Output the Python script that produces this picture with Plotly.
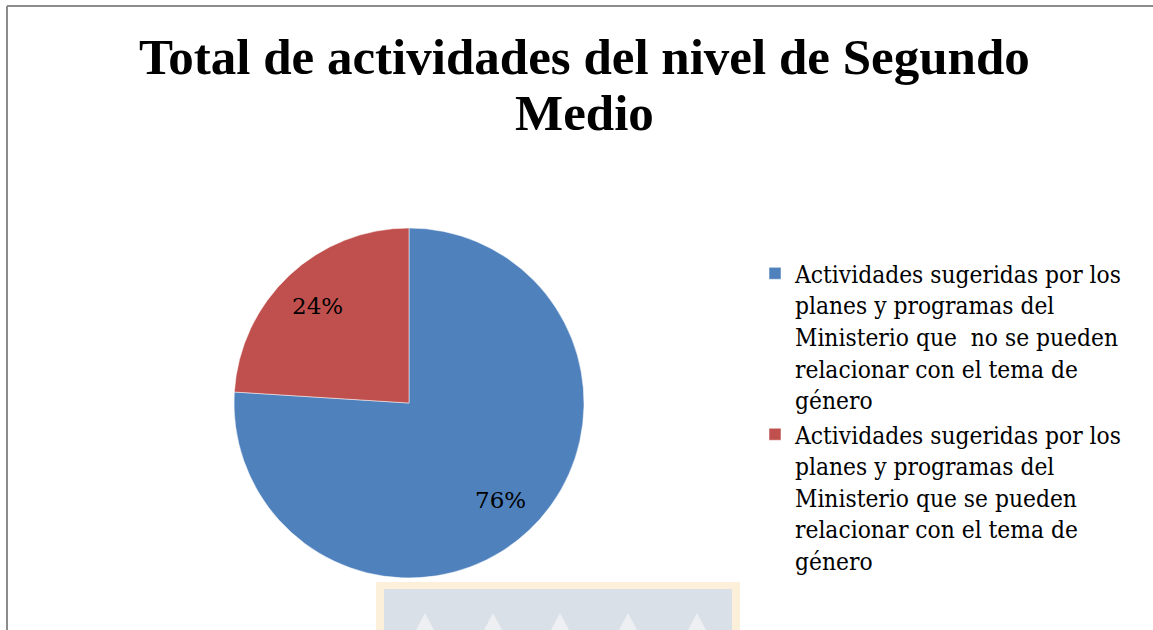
import math
import plotly.graph_objects as go

W, H = 1153, 630

title_lines = ["Total de actividades del nivel de Segundo", "Medio"]
categories = [
    "Actividades sugeridas por los<br>planes y programas del<br>Ministerio que  no se pueden<br>relacionar con el tema de<br>género",
    "Actividades sugeridas por los<br>planes y programas del<br>Ministerio que se pueden<br>relacionar con el tema de<br>género",
]
values = [76, 24]
colors = ["#4F81BD", "#C0504D"]

FONT = "Liberation Serif"
LFONT = "DejaVu Serif Condensed, DejaVu Serif"
PFONT = "DejaVu Serif"

# pie geometry (pixels)
cx, cy, R = 409, 403, 175

fig = go.Figure()
fig.add_trace(go.Pie(
    labels=categories,
    values=values,
    sort=False,
    direction="clockwise",
    rotation=0,
    marker=dict(colors=colors, line=dict(color="white", width=0.5)),
    textinfo="none",
    hoverinfo="label+percent",
    domain=dict(x=[(cx - R) / W, (cx + R) / W], y=[1 - (cy + R) / H, 1 - (cy - R) / H]),
    showlegend=True,
))

# percentage labels placed along slice bisectors
total = sum(values)
start = 0.0
annotations = []
for v in values:
    frac = v / total
    mid = (start + frac / 2) * 2 * math.pi
    start += frac
    r = 0.76 * R
    px = cx + r * math.sin(mid)
    py = cy - r * math.cos(mid)
    annotations.append(dict(
        x=px / W, y=1 - py / H, xref="paper", yref="paper",
        text=f"{round(frac * 100)}%", showarrow=False,
        font=dict(family=PFONT, size=23, color="black"),
        xanchor="center", yanchor="middle",
    ))

for i, line in enumerate(title_lines):
    annotations.append(dict(
        x=584 / W, y=1 - (57 + 56 * i) / H, xref="paper", yref="paper",
        text="<b>" + line + "</b>", showarrow=False,
        font=dict(family=FONT, size=51, color="black"),
        xanchor="center", yanchor="middle", align="center",
    ))

shapes = [
    # chart border (top and left visible)
    dict(type="line", xref="paper", yref="paper", x0=7 / W, x1=1, y0=1 - 6 / H, y1=1 - 6 / H,
         line=dict(color="#8C8C8C", width=2)),
    dict(type="line", xref="paper", yref="paper", x0=7 / W, x1=7 / W, y0=0, y1=1 - 6 / H,
         line=dict(color="#8C8C8C", width=2)),
    # faint watermark at bottom
    dict(type="rect", xref="paper", yref="paper", x0=376 / W, x1=740 / W, y0=-0.05, y1=1 - 582 / H,
         fillcolor="#FDF0DA", line=dict(width=0), layer="below"),
    dict(type="rect", xref="paper", yref="paper", x0=384 / W, x1=732 / W, y0=-0.05, y1=1 - 589 / H,
         fillcolor="#DAE0E8", line=dict(width=0), layer="below"),
]
for tx in [425, 493, 560, 628, 697]:
    shapes.append(dict(
        type="path", xref="paper", yref="paper",
        path=f"M {(tx - 9) / W} 0 L {tx / W} {1 - 613 / H} L {(tx + 9) / W} 0 Z",
        fillcolor="#EDEFF2", line=dict(width=0), layer="below",
    ))

fig.update_layout(
    width=W, height=H,
    margin=dict(l=0, r=0, t=0, b=0),
    paper_bgcolor="white", plot_bgcolor="white",
    font=dict(family=FONT, color="black"),
    legend=dict(
        x=755 / W, y=1 - 251 / H, xanchor="left", yanchor="top",
        font=dict(family=LFONT, size=24.3, color="black"),
        itemwidth=30, valign="top", bgcolor="rgba(0,0,0,0)",
    ),
    annotations=annotations,
    shapes=shapes,
)

fig.write_html(
    "out.html",
    config={"displayModeBar": False},
    post_script="document.body.style.margin='0';document.body.style.overflow='hidden';",
)
